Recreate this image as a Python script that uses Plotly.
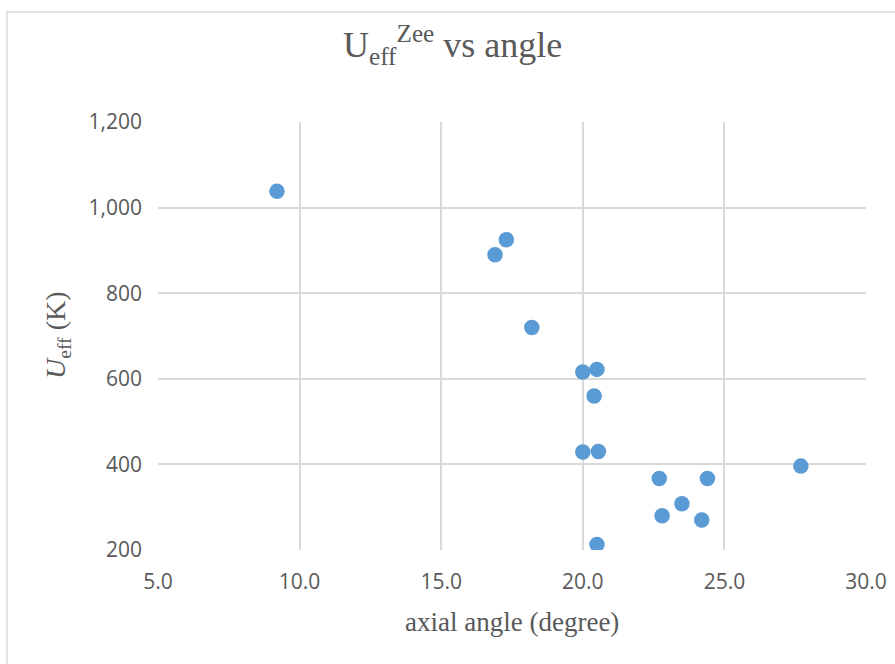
import plotly.graph_objects as go

# axial angle (degree) and effective barrier U_eff (K)
axial_angle = [9.2, 16.9, 17.3, 18.2, 20.0, 20.5, 20.4, 20.0, 20.55, 22.7, 22.8, 23.5, 24.2, 24.4, 27.7, 20.5]
u_eff = [1038, 890, 925, 720, 616, 622, 560, 429, 430, 367, 280, 308, 270, 367, 396, 213]

x_ticks = [5, 10, 15, 20, 25, 30]
y_ticks = [200, 400, 600, 800, 1000, 1200]

W, H = 895, 664
L, R, T, B = 158, 29, 122, 114
pw, ph = W - L - R, H - T - B


def px(x):
    return (x - L) / pw


def py(y):
    return (H - B - y) / ph


grid = "#D9D9D9"
text_col = "#595959"

fig = go.Figure(
    go.Scatter(
        x=axial_angle,
        y=u_eff,
        mode="markers",
        marker=dict(size=15.5, color="#5B9BD5", line=dict(width=0)),
        hoverinfo="x+y",
    )
)

fig.update_layout(
    width=W,
    height=H,
    margin=dict(l=L, r=R, t=T, b=B, autoexpand=False),
    paper_bgcolor="white",
    plot_bgcolor="white",
    showlegend=False,
    font=dict(family="Open Sans", color=text_col),
    xaxis=dict(
        range=[5, 30],
        tickvals=x_ticks,
        tickformat=".1f",
        showgrid=True,
        gridcolor=grid,
        gridwidth=1.5,
        zeroline=False,
        showline=False,
        ticks="",
        automargin=False,
        ticklabelstandoff=17,
        tickfont=dict(family="Open Sans", size=21, color=text_col),
    ),
    yaxis=dict(
        range=[200, 1200],
        tickvals=y_ticks,
        tickformat=",d",
        showgrid=True,
        gridcolor=grid,
        gridwidth=1.5,
        zeroline=False,
        showline=False,
        ticks="",
        automargin=False,
        ticklabelstandoff=15,
        tickfont=dict(family="Open Sans", size=21, color=text_col),
    ),
    shapes=[
        # outer chart frame
        dict(
            type="rect", xref="paper", yref="paper",
            x0=px(7), x1=px(905), y0=py(675), y1=py(12),
            line=dict(color=grid, width=1.5), fillcolor="rgba(0,0,0,0)", layer="below",
        ),
    ],
    annotations=[
        dict(
            text="U<sub>eff</sub><sup>Zee</sup> vs angle",
            xref="paper", yref="paper", x=px(452), y=py(45),
            showarrow=False, xanchor="center", yanchor="middle",
            font=dict(family="Liberation Serif", size=36, color=text_col),
        ),
        dict(
            text="axial angle (degree)",
            xref="paper", yref="paper", x=px(512), y=py(622),
            showarrow=False, xanchor="center", yanchor="middle",
            font=dict(family="Liberation Serif", size=27, color=text_col),
        ),
        dict(
            text="<i>U</i><sub>eff</sub> (K)",
            xref="paper", yref="paper", x=px(57), y=py(335),
            showarrow=False, xanchor="center", yanchor="middle", textangle=-90,
            font=dict(family="Liberation Serif", size=28, color=text_col),
        ),
    ],
)

fig.write_html("out.html")
